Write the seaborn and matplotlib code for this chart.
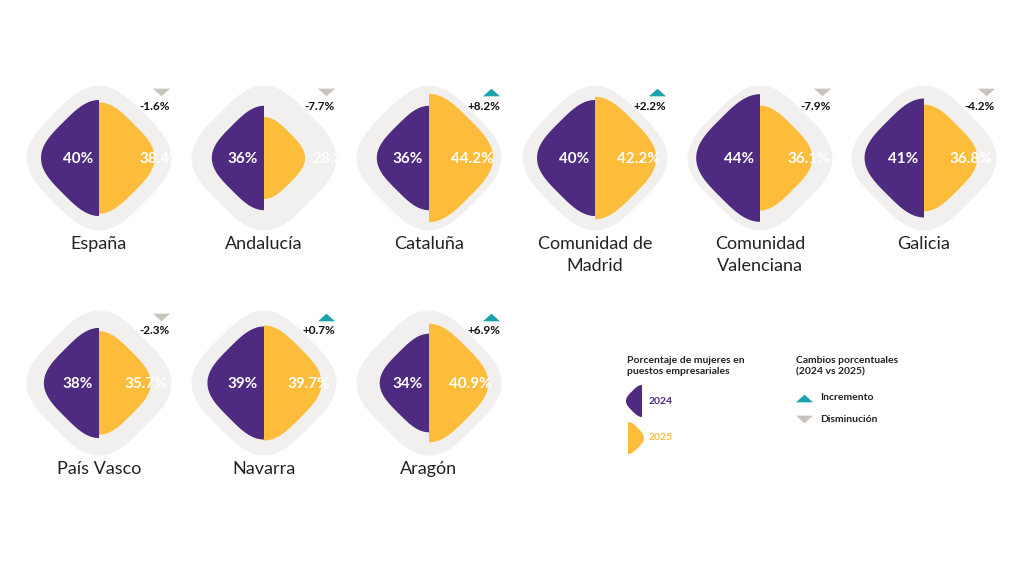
import numpy as np
import pandas as pd
import matplotlib
matplotlib.use("Agg")
import matplotlib.pyplot as plt
import seaborn as sns

# =========================
# Data
# =========================
regions = ["España", "Andalucía", "Cataluña", "Comunidad de\nMadrid",
           "Comunidad\nValenciana", "Galicia", "País Vasco", "Navarra", "Aragón"]
pct_2024 = [40, 36, 36, 40, 44, 41, 38, 39, 34]
pct_2025 = [38.4, 28.3, 44.2, 42.2, 36.1, 36.8, 35.7, 39.7, 40.9]
change = [-1.6, -7.7, 8.2, 2.2, -7.9, -4.2, -2.3, 0.7, 6.9]

PURPLE = "#4e2a80"
YELLOW = "#fdbd3a"
BACK = "#f2f0ee"
TEAL = "#1aa3ad"
GREY = "#c9c3be"

sns.set_theme(style="white")
plt.rcParams["font.family"] = ["Lato", "DejaVu Sans"]

# layout (pixels)
col_x = [99, 264, 429, 595, 760, 924]
row_y = [158, 383]
px_per_pct = 1.45
offset_2025 = [40, 48, 22, 22, 27, 25, 25, 23, 20]


def rounded_diamond(r, p=3.3, n=600):
    # rotated superellipse, tip-to-centre distance = r
    t = np.linspace(0, 2 * np.pi, n)
    R = r / (np.sqrt(2) * 2 ** (-1 / p))
    u = R * np.sign(np.cos(t)) * np.abs(np.cos(t)) ** (2 / p)
    v = R * np.sign(np.sin(t)) * np.abs(np.sin(t)) ** (2 / p)
    x = (u - v) / np.sqrt(2)
    y = (u + v) / np.sqrt(2)
    return x, y


def half(cx, cy, r, side, color, ax):
    x, y = rounded_diamond(r)
    m = x <= 0 if side == "left" else x >= 0
    xs, ys = x[m], y[m]
    order = np.argsort(ys)
    xs, ys = xs[order], ys[order]
    ax.fill(np.r_[cx, cx + xs, cx], np.r_[cy + ys[0], cy + ys, cy + ys[-1]],
            color=color, lw=0)


fig = plt.figure(figsize=(10.24, 5.76), dpi=100)
ax = fig.add_axes([0, 0, 1, 1])
ax.set_xlim(0, 1024)
ax.set_ylim(576, 0)
ax.axis("off")

tri_rows = []
for i, name in enumerate(regions):
    cx = col_x[i % 6]
    cy = row_y[i // 6]

    bx, by = rounded_diamond(50 * px_per_pct)
    ax.fill(cx + bx, cy + by, color=BACK, lw=0)

    half(cx, cy, pct_2024[i] * px_per_pct, "left", PURPLE, ax)
    half(cx, cy, pct_2025[i] * px_per_pct, "right", YELLOW, ax)

    ax.text(cx - 21, cy + 1, f"{pct_2024[i]:.0f}%", color="white",
            fontsize=11, fontweight="bold", ha="center", va="center")
    ax.text(cx + offset_2025[i], cy + 1, f"{pct_2025[i]:.1f}%", color="white",
            fontsize=11, fontweight="bold", ha="left", va="center")

    ax.text(cx, cy + 78, name, color="#222222", fontsize=13,
            ha="center", va="top", linespacing=1.45)

    sign = "+" if change[i] > 0 else ""
    ax.text(cx + 71, cy - 52, f"{sign}{change[i]:.1f}%", color="#111111",
            fontsize=8.5, fontweight="bold", ha="right", va="center")
    tri_rows.append({"x": cx + 62, "y": cy - 66,
                     "dir": "up" if change[i] > 0 else "down"})

tri = pd.DataFrame(tri_rows)
up_marker = [(-1, -0.45), (1, -0.45), (0, 0.45)]
down_marker = [(-1, 0.45), (1, 0.45), (0, -0.45)]
sns.scatterplot(data=tri[tri["dir"] == "up"], x="x", y="y", marker=up_marker,
                s=150, color=TEAL, linewidth=0, ax=ax, legend=False)
sns.scatterplot(data=tri[tri["dir"] == "down"], x="x", y="y", marker=down_marker,
                s=150, color=GREY, linewidth=0, ax=ax, legend=False)

# =========================
# Legends
# =========================
ax.text(627, 366, "Porcentaje de mujeres en\npuestos empresariales",
        fontsize=7.5, fontweight="bold", color="#222222", va="center",
        linespacing=1.4)
half(642, 401, 16, "left", PURPLE, ax)
ax.text(649, 401, "2024", fontsize=7.5, fontweight="bold", color=PURPLE, va="center")
half(628, 438, 16, "right", YELLOW, ax)
ax.text(649, 438, "2025", fontsize=7.5, fontweight="bold", color=YELLOW, va="center")

ax.text(796, 366, "Cambios porcentuales\n(2024 vs 2025)",
        fontsize=7.5, fontweight="bold", color="#222222", va="center",
        linespacing=1.4)
leg = pd.DataFrame({"x": [804, 804], "y": [398, 419]})
sns.scatterplot(data=leg.iloc[[0]], x="x", y="y", marker=up_marker,
                s=150, color=TEAL, linewidth=0, ax=ax, legend=False)
sns.scatterplot(data=leg.iloc[[1]], x="x", y="y", marker=down_marker,
                s=150, color=GREY, linewidth=0, ax=ax, legend=False)
ax.text(820, 398, "Incremento", fontsize=7.5, fontweight="bold", color="#222222", va="center")
ax.text(820, 419, "Disminución", fontsize=7.5, fontweight="bold", color="#222222", va="center")

ax.set_xlim(0, 1024)
ax.set_ylim(576, 0)
fig.savefig("out.png", dpi=100)
